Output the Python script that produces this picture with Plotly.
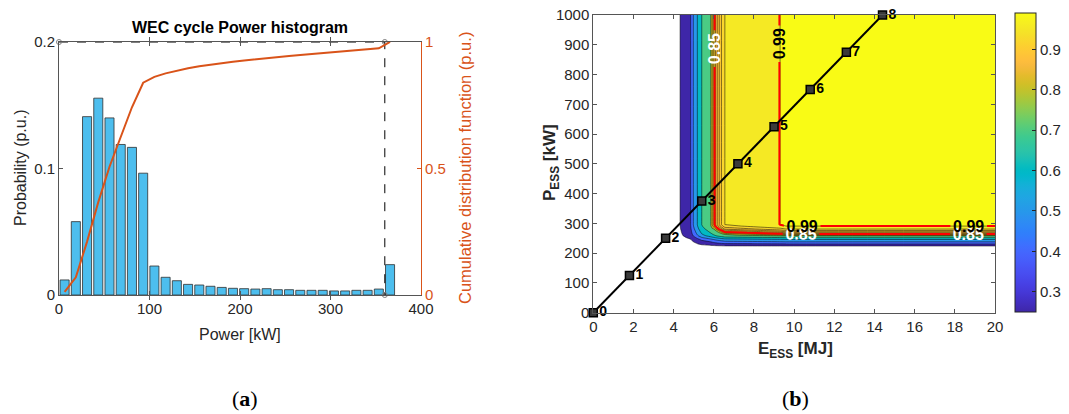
import numpy as np
import plotly.graph_objects as go

W, H = 1069, 414
FONT = "Liberation Sans"
AXC = "#262626"
ORANGE = "#D95319"

# ---------------- panel (a) data ----------------
power_bin_center_kw = [6.2, 18.6, 31.0, 43.4, 55.8, 68.2, 80.6, 93.0, 105.4, 117.8,
                       130.2, 142.6, 155.0, 167.4, 179.8, 192.2, 204.6, 217.0, 229.4, 241.8,
                       254.2, 266.6, 279.0, 291.4, 303.8, 316.2, 328.6, 341.0, 353.4, 365.8]
probability_pu = [0.0119, 0.058, 0.141, 0.1556, 0.140, 0.119, 0.1167, 0.0963, 0.0229, 0.0140,
                  0.0113, 0.0084, 0.0079, 0.0069, 0.0060, 0.0053, 0.0050, 0.0047, 0.0050, 0.0042,
                  0.0042, 0.0037, 0.0037, 0.0037, 0.0032, 0.0032, 0.0037, 0.0037, 0.0047, 0.024]
cdf_pu = [0.012, 0.070, 0.211, 0.367, 0.507, 0.626, 0.742, 0.839, 0.862, 0.876,
          0.887, 0.896, 0.904, 0.911, 0.917, 0.922, 0.927, 0.932, 0.937, 0.941,
          0.945, 0.949, 0.953, 0.956, 0.959, 0.963, 0.967, 0.970, 0.975, 1.000]
guide_x_kw = [0, 360, 360]
guide_y_pu = [0.2, 0.2, 0.0]

# ---------------- panel (b) data ----------------
energy_mj = [0.0, 4.30, 4.32, 4.85, 4.98, 5.18, 5.40, 5.85, 5.92, 6.00, 6.08, 6.17,
             6.27, 6.38, 6.55, 9.30, 9.60, 20.0]
eff_vs_energy = [0.0, 0.0, 0.25, 0.40, 0.50, 0.60, 0.70, 0.80, 0.82, 0.84, 0.86, 0.88,
                 0.90, 0.92, 0.95, 0.99, 1.00, 1.00]
power_kw = [0, 222, 224, 231, 238, 246, 252, 258, 260, 262.5, 265.5, 268.5,
            272, 276, 281, 291, 296, 1000]
eff_vs_power = [0.0, 0.0, 0.25, 0.40, 0.50, 0.60, 0.70, 0.80, 0.82, 0.84, 0.86, 0.88,
                0.90, 0.92, 0.95, 0.99, 1.00, 1.00]
fill_levels = [0.25, 0.40, 0.50, 0.60, 0.70, 0.80, 0.82, 0.84, 0.86, 0.88, 0.90, 0.92, 0.95, 0.99]
red_level_white = 0.85
red_level_black = 0.99
design_energy_mj = [0, 1.8, 3.6, 5.4, 7.2, 9.0, 10.8, 12.6, 14.4]
design_power_kw = [0, 125, 250, 375, 500, 625, 750, 875, 1000]
design_labels = ["0", "1", "2", "3", "4", "5", "6", "7", "8"]
cbar_ticks = [0.3, 0.4, 0.5, 0.6, 0.7, 0.8, 0.9]
cbar_min, cbar_max = 0.25, 0.99

# ---------------- parula colormap (style table) ----------------
PARULA = [
    (0.2422, 0.1504, 0.6603), (0.2504, 0.1650, 0.7076), (0.2578, 0.1818, 0.7511), (0.2647, 0.1978, 0.7952),
    (0.2706, 0.2147, 0.8364), (0.2751, 0.2342, 0.8710), (0.2783, 0.2559, 0.8991), (0.2803, 0.2782, 0.9221),
    (0.2813, 0.3006, 0.9414), (0.2810, 0.3228, 0.9579), (0.2795, 0.3447, 0.9717), (0.2760, 0.3667, 0.9829),
    (0.2699, 0.3892, 0.9906), (0.2602, 0.4123, 0.9952), (0.2440, 0.4358, 0.9988), (0.2206, 0.4603, 0.9973),
    (0.1963, 0.4847, 0.9892), (0.1834, 0.5074, 0.9798), (0.1786, 0.5289, 0.9682), (0.1764, 0.5499, 0.9520),
    (0.1687, 0.5703, 0.9359), (0.1540, 0.5902, 0.9218), (0.1460, 0.6091, 0.9079), (0.1380, 0.6276, 0.8973),
    (0.1248, 0.6459, 0.8883), (0.1113, 0.6635, 0.8763), (0.0952, 0.6798, 0.8598), (0.0689, 0.6948, 0.8394),
    (0.0297, 0.7082, 0.8163), (0.0036, 0.7203, 0.7917), (0.0067, 0.7312, 0.7660), (0.0433, 0.7411, 0.7394),
    (0.0964, 0.7500, 0.7120), (0.1408, 0.7584, 0.6842), (0.1717, 0.7670, 0.6554), (0.1938, 0.7758, 0.6251),
    (0.2161, 0.7843, 0.5923), (0.2470, 0.7918, 0.5567), (0.2906, 0.7973, 0.5188), (0.3406, 0.8008, 0.4789),
    (0.3909, 0.8029, 0.4354), (0.4456, 0.8024, 0.3909), (0.5044, 0.7993, 0.3480), (0.5616, 0.7942, 0.3045),
    (0.6174, 0.7876, 0.2612), (0.6720, 0.7793, 0.2227), (0.7242, 0.7698, 0.1910), (0.7738, 0.7598, 0.1646),
    (0.8203, 0.7498, 0.1535), (0.8634, 0.7406, 0.1596), (0.9035, 0.7330, 0.1774), (0.9393, 0.7288, 0.2100),
    (0.9728, 0.7298, 0.2394), (0.9956, 0.7434, 0.2371), (0.9970, 0.7659, 0.2199), (0.9952, 0.7893, 0.2028),
    (0.9892, 0.8136, 0.1885), (0.9786, 0.8386, 0.1766), (0.9676, 0.8639, 0.1643), (0.9610, 0.8890, 0.1537),
    (0.9597, 0.9135, 0.1423), (0.9628, 0.9373, 0.1265), (0.9691, 0.9606, 0.1064), (0.9769, 0.9839, 0.0805),
]


def rgb(c):
    return "rgb(%d,%d,%d)" % tuple(int(round(v * 255)) for v in c)


def parula_at(v):
    t = min(max((v - cbar_min) / (cbar_max - cbar_min), 0.0), 1.0)
    return rgb(PARULA[int(round(t * (len(PARULA) - 1)))])


parula_cs = [[i / (len(PARULA) - 1), rgb(c)] for i, c in enumerate(PARULA)]

# efficiency table for the contour (grid of the knots above)
z_eff = np.outer(np.array(eff_vs_power), np.array(eff_vs_energy))
nlev = len(fill_levels)
z_index = np.interp(z_eff, [0.0] + fill_levels + [1.0],
                    [-1.0] + list(range(nlev)) + [nlev - 0.5])
band_colors = ["white"] + [parula_at(l) for l in fill_levels[:-1]] + [parula_at(1.0)]
fill_cs = [[j / nlev, c] for j, c in enumerate(band_colors)]

# ---------------- domains (paper fractions) ----------------
ax_a_x = [59 / W, 421 / W]
ax_a_y = [1 - 295 / H, 1 - 42 / H]
ax_b_x = [593.3 / W, 995 / W]
ax_b_y = [1 - 312.7 / H, 1 - 15 / H]

fig = go.Figure()

# ---- panel (a)
fig.add_trace(go.Bar(
    x=power_bin_center_kw, y=probability_pu, width=10,
    marker=dict(color="#4DBEEE", line=dict(color="#303030", width=0.8)),
    xaxis="x", yaxis="y", hoverinfo="skip"))
fig.add_trace(go.Scatter(
    x=guide_x_kw, y=guide_y_pu, mode="lines+markers", xaxis="x", yaxis="y",
    line=dict(color="black", width=1, dash="dash"),
    marker=dict(symbol="circle-open", size=5, color="#808080", line=dict(width=1)),
    cliponaxis=False, hoverinfo="skip"))
fig.add_trace(go.Scatter(
    x=power_bin_center_kw, y=cdf_pu, mode="lines", xaxis="x", yaxis="y2",
    line=dict(color=ORANGE, width=2), cliponaxis=False, hoverinfo="skip"))

# ---- panel (b)
fig.add_trace(go.Contour(
    x=energy_mj, y=power_kw, z=z_index, xaxis="x2", yaxis="y3",
    autocontour=False,
    contours=dict(start=1e-4, end=nlev - 1 + 1e-4, size=1, coloring="fill", showlines=True),
    colorscale=fill_cs, showscale=False,
    line=dict(color="black", width=0.5, smoothing=0), hoverinfo="skip"))


def red_contour(level, n_dummy, label_color):
    # extra (empty, >1) levels only make plotly place more labels along the real line
    return go.Contour(
        x=energy_mj, y=power_kw, z=z_eff, xaxis="x2", yaxis="y3",
        autocontour=False,
        contours=dict(start=level, end=level + 0.3 * (n_dummy - 1), size=0.3, coloring="none",
                      showlabels=True, labelformat=".2f",
                      labelfont=dict(family=FONT, size=16, color=label_color, weight="bold")),
        line=dict(color="red", width=2, smoothing=0), showscale=False, hoverinfo="skip")


fig.add_trace(red_contour(red_level_white, 60, "white"))
fig.add_trace(red_contour(red_level_black - 5e-4, 110, "black"))

fig.add_trace(go.Scatter(
    x=design_energy_mj, y=design_power_kw, mode="lines+markers+text", text=design_labels,
    textposition="middle right", xaxis="x2", yaxis="y3",
    line=dict(color="black", width=2),
    marker=dict(symbol="square", size=8, color="#3a3a3a", line=dict(width=1.5, color="black")),
    textfont=dict(family=FONT, size=14, color="black", weight="bold"),
    cliponaxis=False, hoverinfo="skip"))
# colorbar carrier
fig.add_trace(go.Scatter(
    x=[10], y=[500], mode="markers", xaxis="x2", yaxis="y3", hoverinfo="skip",
    marker=dict(size=1, opacity=0, color=[0.5], colorscale=parula_cs, cmin=cbar_min, cmax=cbar_max,
                showscale=True,
                colorbar=dict(x=1015 / W, xanchor="left", y=1 - 162.5 / H, yanchor="middle",
                              len=299 / H, lenmode="fraction", thickness=21, thicknessmode="pixels",
                              outlinewidth=1, outlinecolor=AXC, ticks="inside", ticklen=4,
                              tickcolor=AXC, tickvals=cbar_ticks,
                              ticktext=[f"{t:.1f}" for t in cbar_ticks],
                              tickfont=dict(family=FONT, size=15, color=AXC), xpad=0, ypad=0))))

tickfont = dict(family=FONT, size=15, color=AXC)
common = dict(showgrid=False, zeroline=False, showline=True, linecolor="#555555", linewidth=1,
              ticks="inside", ticklen=4, tickcolor="#555555", tickfont=tickfont, automargin=False)

fig.update_layout(
    width=W, height=H, margin=dict(l=0, r=0, t=0, b=0, autoexpand=False),
    paper_bgcolor="white", plot_bgcolor="white", showlegend=False,
    font=dict(family=FONT, color=AXC),
    xaxis=dict(domain=ax_a_x, anchor="y", range=[0, 400], tickvals=[0, 100, 200, 300, 400],
               mirror="allticks", **common),
    yaxis=dict(domain=ax_a_y, anchor="x", range=[0, 0.2], tickvals=[0, 0.1, 0.2],
               ticktext=["0", "0.1", "0.2"], **common),
    yaxis2=dict(overlaying="y", anchor="x", side="right", range=[0, 1], tickvals=[0, 0.5, 1],
                ticktext=["0", "0.5", "1"], showgrid=False, zeroline=False, showline=True,
                linecolor=ORANGE, linewidth=1, ticks="inside", ticklen=4, tickcolor=ORANGE,
                tickfont=dict(family=FONT, size=15, color=ORANGE), automargin=False),
    xaxis2=dict(domain=ax_b_x, anchor="y3", range=[0, 20], tickvals=list(range(0, 21, 2)),
                mirror="allticks", **common),
    yaxis3=dict(domain=ax_b_y, anchor="x2", range=[0, 1000], tickvals=list(range(0, 1001, 100)),
                mirror="allticks", **common),
)

ann = [
    dict(text="<b>WEC cycle Power histogram</b>", x=240 / W, y=1 - 28 / H, font=dict(size=16, color="black")),
    dict(text="Power [kW]", x=240 / W, y=1 - 334 / H, font=dict(size=16, color=AXC)),
    dict(text="Probability (p.u.)", x=20 / W, y=1 - 168 / H, textangle=-90, font=dict(size=16, color=AXC)),
    dict(text="Cumulative distribution function (p.u.)", x=465 / W, y=1 - 168 / H, textangle=-90,
         font=dict(size=16.5, color=ORANGE)),
    dict(text="<b>E<sub>ESS</sub> [MJ]</b>", x=795 / W, y=1 - 350 / H, font=dict(size=17, color=AXC)),
    dict(text="<b>P<sub>ESS</sub> [kW]</b>", x=551 / W, y=1 - 163 / H, textangle=-90,
         font=dict(size=17, color=AXC)),
    dict(text="(<b>a</b>)", x=245 / W, y=1 - 398 / H, font=dict(family="Liberation Serif", size=22, color="black")),
    dict(text="(<b>b</b>)", x=795 / W, y=1 - 398 / H, font=dict(family="Liberation Serif", size=22, color="black")),
]
for a in ann:
    a.update(xref="paper", yref="paper", showarrow=False, xanchor="center", yanchor="middle")
    a["font"].setdefault("family", FONT)
fig.update_layout(annotations=ann)

fig.write_html("out.html",
               post_script="document.body.style.margin='0';document.body.style.padding='0';"
                           "document.body.style.overflow='hidden';")
